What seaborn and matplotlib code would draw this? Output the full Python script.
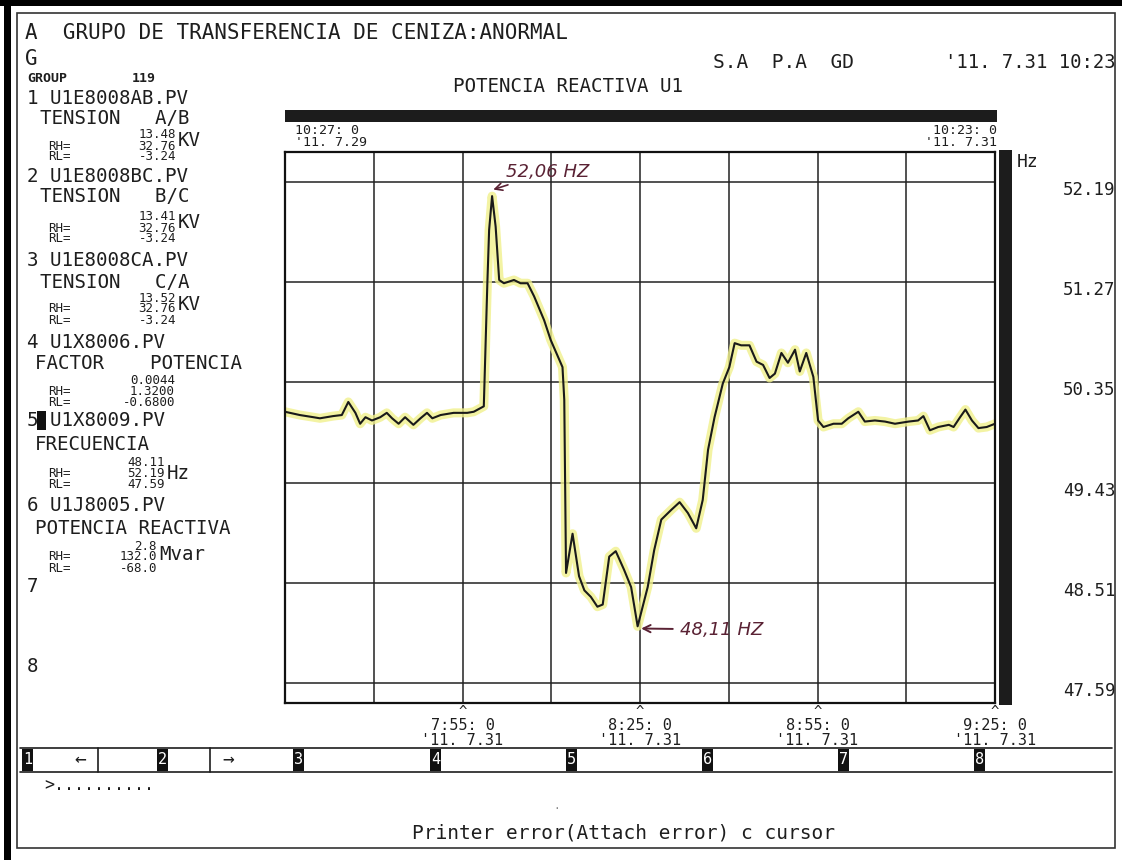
import numpy as np
import pandas as pd
import matplotlib
matplotlib.use("Agg")
import matplotlib.pyplot as plt
import seaborn as sns
from matplotlib.patches import Rectangle
from matplotlib.lines import Line2D
from matplotlib.transforms import ScaledTranslation

# ---------------- data ----------------
minutes = [0.0, 2.5, 4.8, 5.9, 8.1, 9.6, 10.7, 11.9, 12.7, 13.6,
           14.7, 16.1, 17.2, 18.1, 19.2, 20.3, 21.7, 22.9, 24.0, 24.9,
           26.3, 28.5, 30.8, 31.9, 33.6, 34.2, 34.5, 35.0, 35.6, 36.2,
           37.0, 38.7, 39.8, 41.0, 42.1, 43.8, 44.9, 46.1, 46.9, 47.2,
           47.5, 48.6, 49.7, 50.6, 51.7, 52.8, 53.7, 54.8, 55.9, 57.3,
           58.5, 59.6, 61.3, 62.4, 63.6, 65.3, 66.7, 68.1, 69.5, 70.6,
           71.5, 72.6, 74.0, 75.1, 76.0, 77.1, 78.5, 79.7, 80.8, 81.9,
           82.8, 83.9, 85.0, 86.2, 87.0, 88.1, 89.3, 90.1, 91.0, 92.7,
           94.1, 95.2, 96.9, 98.0, 99.7, 101.4, 103.1, 105.4, 107.0, 107.9,
           109.0, 110.4, 112.2, 113.0, 114.1, 115.0, 116.1, 117.2, 118.6, 120.0]
freq_hz = [50.08, 50.05, 50.03, 50.02, 50.04, 50.05, 50.17, 50.07, 49.97, 50.03,
           50.00, 50.03, 50.07, 50.02, 49.97, 50.03, 49.96, 50.02, 50.07, 50.02,
           50.05, 50.07, 50.07, 50.08, 50.13, 51.26, 51.75, 52.06, 51.78, 51.29,
           51.26, 51.29, 51.26, 51.26, 51.14, 50.92, 50.74, 50.59, 50.49, 50.19,
           48.60, 48.96, 48.57, 48.44, 48.38, 48.29, 48.31, 48.75, 48.80, 48.63,
           48.47, 48.11, 48.47, 48.81, 49.09, 49.18, 49.25, 49.15, 49.01, 49.27,
           49.73, 50.03, 50.34, 50.49, 50.71, 50.69, 50.69, 50.54, 50.51, 50.39,
           50.43, 50.62, 50.53, 50.65, 50.45, 50.62, 50.40, 50.00, 49.94, 49.97,
           49.97, 50.02, 50.08, 49.99, 50.00, 49.99, 49.97, 49.99, 50.00, 50.04,
           49.91, 49.94, 49.96, 49.94, 50.03, 50.10, 50.00, 49.93, 49.94, 49.97]

y_ticks = [52.19, 51.27, 50.35, 49.43, 48.51, 47.59]
x_grid = [0, 15, 30, 45, 60, 75, 90, 105, 120]
x_labels = ["", "", "7:55: 0\n'11. 7.31", "", "8:25: 0\n'11. 7.31", "",
            "8:55: 0\n'11. 7.31", "", "9:25: 0\n'11. 7.31"]
x_marks = [30, 60, 90, 120]
peak_label = "52,06 HZ"
min_label = "48,11 HZ"

df = pd.DataFrame({"min": minutes, "hz": freq_hz})

# ---------------- style ----------------
sns.set_theme(style="white")
plt.rcParams["font.family"] = ["DejaVu Sans Mono", "DejaVu Sans"]
INK = "#1e1e1e"

W, H = 1122, 860
fig = plt.figure(figsize=(W / 100, H / 100), dpi=100)
fig.patch.set_facecolor("white")


def fx(x):
    return x / W


def fy(y):
    return 1 - y / H


def ftext(x, y, s, size=14, ha="left", va="center", **kw):
    kw.setdefault("color", INK)
    fig.text(fx(x), fy(y), s, fontsize=size, ha=ha, va=va, **kw)


def frect(x0, y0, x1, y1, **kw):
    fig.add_artist(Rectangle((fx(x0), fy(y1)), (x1 - x0) / W, (y1 - y0) / H,
                             transform=fig.transFigure, **kw))


def fline(xs, ys, **kw):
    kw.setdefault("color", INK)
    fig.add_artist(Line2D([fx(x) for x in xs], [fy(y) for y in ys],
                          transform=fig.transFigure, **kw))


# ---------------- main axes ----------------
ax = fig.add_axes([fx(285), fy(703), 710 / W, 551 / H])
sns.lineplot(data=df, x="min", y="hz", ax=ax, color="#f0f08c", lw=6.5,
             alpha=0.8, estimator=None, sort=False, solid_capstyle="round")
sns.lineplot(data=df, x="min", y="hz", ax=ax, color="#1a1a1a", lw=1.5,
             estimator=None, sort=False)
ax.set_xlim(0, 120)
ax.set_ylim(47.406, 52.465)
ax.set_xlabel("")
ax.set_ylabel("")
ax.set_xticks(x_grid)
ax.set_xticklabels(x_labels, fontsize=11, linespacing=1.0, color=INK)
ax.set_yticks(y_ticks)
ax.set_yticklabels([f"{v:.2f}" for v in y_ticks], fontsize=12.5, color=INK)
ax.tick_params(axis="x", length=0, pad=11)
ax.tick_params(axis="y", length=0, left=False, labelleft=False,
               right=False, labelright=True, pad=49)
for lab in ax.get_yticklabels():
    lab.set_transform(lab.get_transform() + ScaledTranslation(0, -0.06, fig.dpi_scale_trans))
ax.grid(True, color="#222222", lw=1.1)
for sp in ax.spines.values():
    sp.set_color("#111111")
    sp.set_linewidth(1.6)

for m in x_marks:
    ax.annotate("^", xy=(m, 0), xycoords=("data", "axes fraction"),
                xytext=(0, -9.5), textcoords="offset points", ha="center",
                va="baseline", fontsize=10, color=INK, annotation_clip=False)

hand = dict(color="#5a2234", fontsize=13, fontstyle="italic",
            family="DejaVu Sans")
ax.annotate(peak_label, xy=(35.2, 52.12), xytext=(37.3, 52.28),
            ha="left", va="center",
            arrowprops=dict(arrowstyle="->", color="#5a2234", lw=1.2,
                            shrinkA=1, shrinkB=0), **hand)
ax.annotate(min_label, xy=(60.2, 48.09), xytext=(66.8, 48.08),
            ha="left", va="center",
            arrowprops=dict(arrowstyle="->", color="#5a2234", lw=1.4,
                            shrinkA=3, shrinkB=0), **hand)

# ---------------- page furniture ----------------
frect(0, 0, W, 6, facecolor="#000000", edgecolor="none")
frect(4, 0, 11, H, facecolor="#000000", edgecolor="none")
frect(17, 13, 1115, 848, facecolor="none", edgecolor="#333333", lw=1.2)

ftext(25, 33, "A  GRUPO DE TRANSFERENCIA DE CENIZA:ANORMAL", 15)
ftext(25, 59, "G", 15)
ftext(27, 78, "GROUP", 9.5, weight="bold")
ftext(132, 78, "119", 9.5, weight="bold")

ftext(713, 62, "S.A  P.A  GD", 14)
ftext(1116, 62, "'11. 7.31 10:23", 13.6, ha="right")
ftext(568, 87, "POTENCIA REACTIVA U1", 13.8, ha="center")

# dark bars
frect(285, 110, 997, 122, facecolor="#1c1c1c", edgecolor="none")
frect(999, 150, 1012, 705, facecolor="#1c1c1c", edgecolor="none")
ftext(1017, 162, "Hz", 13)

ftext(295, 130, "10:27: 0", 9.5)
ftext(295, 142, "'11. 7.29", 9.5)
ftext(997, 130, "10:23: 0", 9.5, ha="right")
ftext(997, 142, "'11. 7.31", 9.5, ha="right")

# left panel
main_lines = [
    (27, 98, "1 U1E8008AB.PV"), (40, 118, "TENSION   A/B"),
    (27, 177, "2 U1E8008BC.PV"), (40, 197, "TENSION   B/C"),
    (27, 260, "3 U1E8008CA.PV"), (40, 282, "TENSION   C/A"),
    (27, 342, "4 U1X8006.PV"), (35, 363, "FACTOR    POTENCIA"),
    (27, 420, "5 U1X8009.PV"), (35, 445, "FRECUENCIA"),
    (27, 505, "6 U1J8005.PV"), (35, 528, "POTENCIA REACTIVA"),
    (27, 587, "7"), (27, 667, "8"),
]
for x, y, s in main_lines:
    ftext(x, y, s, 13.8)
frect(37, 411, 46, 430, facecolor="#111111", edgecolor="none")

small_vals = [
    (176, 135, "13.48"), (176, 146, "32.76"), (176, 157, "-3.24"),
    (176, 217, "13.41"), (176, 228, "32.76"), (176, 239, "-3.24"),
    (176, 298, "13.52"), (176, 309, "32.76"), (176, 320, "-3.24"),
    (175, 380, "0.0044"), (175, 391, "1.3200"), (175, 402, "-0.6800"),
    (165, 462, "48.11"), (165, 473, "52.19"), (165, 484, "47.59"),
    (157, 546, "2.8"), (157, 557, "132.0"), (157, 568, "-68.0"),
]
for x, y, s in small_vals:
    ftext(x, y, s, 9, ha="right")
for yh, yl in [(146, 157), (228, 239), (309, 320), (391, 402), (473, 484), (557, 568)]:
    ftext(48, yh, "RH=", 9)
    ftext(48, yl, "RL=", 9)
units = [(178, 141, "KV"), (178, 223, "KV"), (178, 305, "KV"),
         (167, 473, "Hz"), (159, 555, "Mvar")]
for x, y, s in units:
    ftext(x, y, s, 13.8)

# button bar
fline([20, 1112], [748, 748], lw=1.2)
fline([20, 1112], [772, 772], lw=1.2)
fline([98, 98], [748, 772], lw=1.2)
fline([210, 210], [748, 772], lw=1.2)
btn_x = [22, 157, 293, 430, 566, 702, 838, 974]
for i, bx in enumerate(btn_x):
    frect(bx, 749, bx + 11, 771, facecolor="#111111", edgecolor="none")
    ftext(bx + 5.5, 760, str(i + 1), 11, ha="center", color="white")
ftext(80, 760, "\u2190", 14, ha="center")
ftext(228, 760, "\u2192", 14, ha="center")
ftext(44, 785, ">..........", 12)
ftext(557, 806, ".", 8, ha="center", color="#888888")
ftext(624, 833, "Printer error(Attach error) c cursor", 14, ha="center")

fig.savefig("out.png", dpi=100, facecolor="white")
